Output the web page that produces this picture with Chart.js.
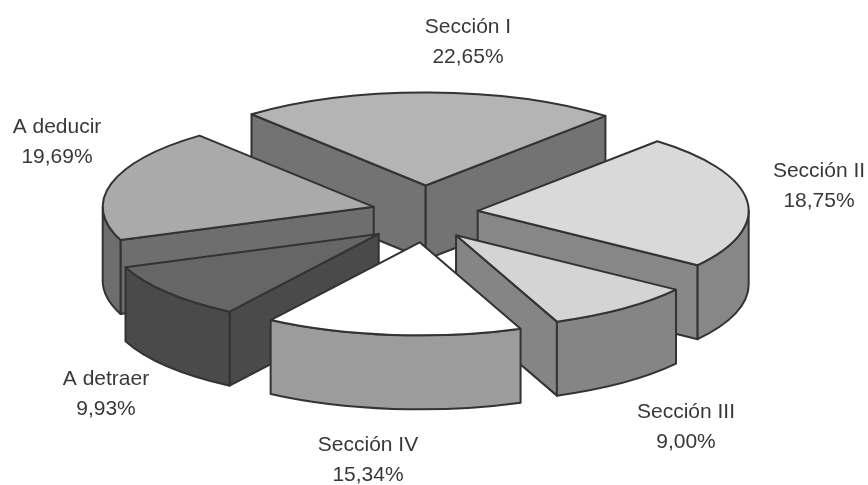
<!DOCTYPE html>
<html>
<head>
<meta charset="utf-8">
<title>Secciones</title>
<script src="https://cdn.jsdelivr.net/npm/chart.js@4/dist/chart.umd.min.js"></script>
<style>
    html, body { margin: 0; padding: 0; background: #fff; overflow: hidden; }
    canvas { display: block; }
</style>
</head>
<body>
<canvas id="pieChart" width="868" height="485"></canvas>
<script>
var categories = ['Sección I', 'Sección II', 'Sección III', 'Sección IV', 'A detraer', 'A deducir']
// printed labels
var percentLabels = ['22,65%', '18,75%', '9,00%', '15,34%', '9,93%', '19,69%']
// slice sizes as drawn: Sección II is printed 18,75 but its slice measures about 23,39
var sliceValues = [22.65, 23.39, 9.00, 15.34, 9.93, 19.69]
var explode = [1, 1, 0.95, 1, 1.12, 1]

var topColors = ['#b4b4b4', '#d9d9d9', '#d4d4d4', '#ffffff', '#666666', '#aaaaaa']
var wallColors = ['#737373', '#878787', '#858585', '#9c9c9c', '#4a4a4a', '#6e6e6e']
var labelSpots = [[468, 27], [819, 171], [686, 412], [368, 445], [106, 379], [57, 127]]

// Chart.js has no 3D pie, so the arcs it computes are drawn here as tilted solids
var pie3d = {
    id: 'pie3d',
    beforeDatasetsDraw: function (chart) {
        var ctx = chart.ctx
        var arcs = chart.getDatasetMeta(0).data
        var cx = 425, cy = 214, rx = 271, ry = 93, depth = 74
        var explodeX = 53, explodeY = 28.5

        var order = arcs.map(function (arc, i) { return i })
        order.sort(function (a, b) {
            return Math.sin((arcs[a].startAngle + arcs[a].endAngle) / 2) - Math.sin((arcs[b].startAngle + arcs[b].endAngle) / 2)
        })

        ctx.save()
        ctx.strokeStyle = '#333333'
        ctx.lineWidth = 2
        ctx.lineJoin = 'round'

        order.forEach(function (i) {
            var start = arcs[i].startAngle
            var end = arcs[i].endAngle
            var mid = (start + end) / 2
            var tipX = cx + explode[i] * explodeX * Math.cos(mid)
            var tipY = cy + explode[i] * explodeY * Math.sin(mid)

            function radialWall(angle) {
                var x = tipX + rx * Math.cos(angle)
                var y = tipY + ry * Math.sin(angle)
                ctx.beginPath()
                ctx.moveTo(tipX, tipY)
                ctx.lineTo(x, y)
                ctx.lineTo(x, y + depth)
                ctx.lineTo(tipX, tipY + depth)
                ctx.closePath()
                ctx.fillStyle = wallColors[i]
                ctx.fill()
                ctx.stroke()
            }

            // side faces turned towards the viewer
            if (Math.cos(start) < 0) radialWall(start)
            if (Math.cos(end) > 0) radialWall(end)

            // rim, only the part on the near half of the ellipse
            var turn = Math.PI * 2
            for (var k = -1; k <= 1; k++) {
                var a0 = Math.max(start, k * turn)
                var a1 = Math.min(end, k * turn + Math.PI)
                if (a1 > a0) {
                    ctx.beginPath()
                    ctx.ellipse(tipX, tipY, rx, ry, 0, a0, a1)
                    ctx.ellipse(tipX, tipY + depth, rx, ry, 0, a1, a0, true)
                    ctx.closePath()
                    ctx.fillStyle = wallColors[i]
                    ctx.fill()
                    ctx.stroke()
                }
            }

            // top face
            ctx.beginPath()
            ctx.moveTo(tipX, tipY)
            ctx.ellipse(tipX, tipY, rx, ry, 0, start, end)
            ctx.closePath()
            ctx.fillStyle = arcs[i].options.backgroundColor
            ctx.fill()
            ctx.stroke()
        })
        ctx.restore()
        return false
    },
    afterDraw: function (chart) {
        var ctx = chart.ctx
        ctx.save()
        ctx.font = '21px "Liberation Sans", Arial, sans-serif'
        ctx.fillStyle = '#383838'
        ctx.textAlign = 'center'
        ctx.textBaseline = 'middle'
        chart.data.labels.forEach(function (label, i) {
            ctx.fillText(label, labelSpots[i][0], labelSpots[i][1])
            ctx.fillText(percentLabels[i], labelSpots[i][0], labelSpots[i][1] + 30)
        })
        ctx.restore()
    }
}

new Chart(document.getElementById('pieChart').getContext('2d'), {
    type: 'pie',
    data: {
        labels: categories,
        datasets: [{
            data: sliceValues,
            backgroundColor: topColors
        }]
    },
    options: {
        responsive: false,
        animation: false,
        rotation: -40,
        plugins: {
            legend: { display: false },
            tooltip: { enabled: false }
        }
    },
    plugins: [pie3d]
})
</script>
</body>
</html>
